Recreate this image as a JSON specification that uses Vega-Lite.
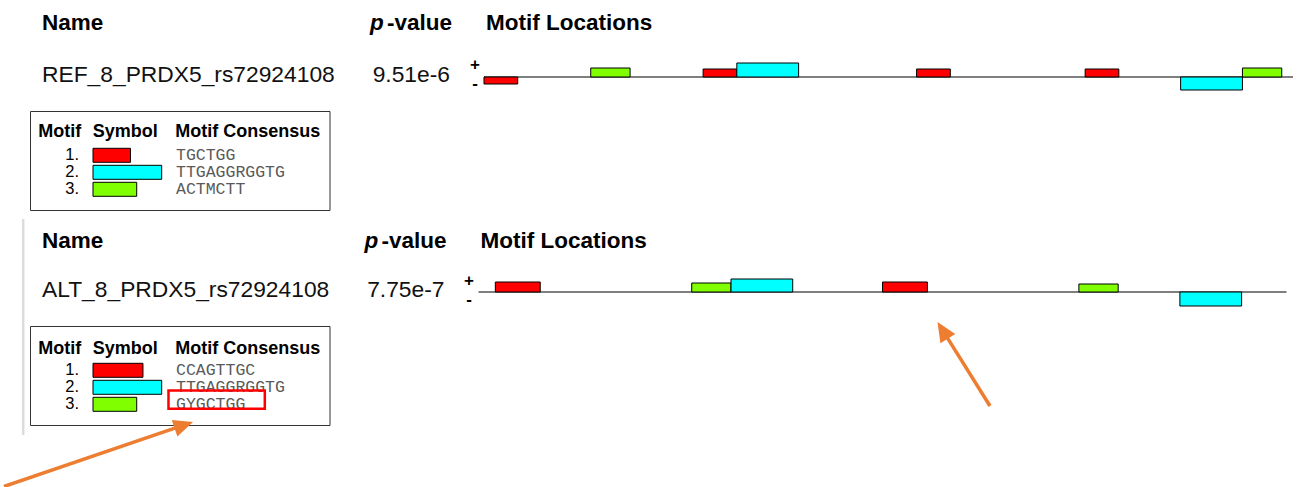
{
  "$schema": "https://vega.github.io/schema/vega-lite/v6.json",
  "width": 1304,
  "height": 487,
  "padding": 0,
  "autosize": {"type": "none"},
  "background": "white",
  "config": {"view": {"stroke": null}},
  "datasets": {
    "seqs": [
      {"seq": "REF", "name": "REF_8_PRDX5_rs72924108", "pvalue": "9.51e-6", "length": 144},
      {"seq": "ALT", "name": "ALT_8_PRDX5_rs72924108", "pvalue": "7.75e-7", "length": 144}
    ],
    "hits": [
      {"seq": "REF", "motif": 1, "strand": "-", "start": 0, "end": 6, "score": -7},
      {"seq": "REF", "motif": 3, "strand": "+", "start": 19, "end": 26, "score": 9},
      {"seq": "REF", "motif": 1, "strand": "+", "start": 39, "end": 45, "score": 8},
      {"seq": "REF", "motif": 2, "strand": "+", "start": 45, "end": 56, "score": 14},
      {"seq": "REF", "motif": 1, "strand": "+", "start": 77, "end": 83, "score": 8},
      {"seq": "REF", "motif": 1, "strand": "+", "start": 107, "end": 113, "score": 8},
      {"seq": "REF", "motif": 2, "strand": "-", "start": 124, "end": 135, "score": -13},
      {"seq": "REF", "motif": 3, "strand": "+", "start": 135, "end": 142, "score": 9},
      {"seq": "ALT", "motif": 1, "strand": "+", "start": 3, "end": 11, "score": 10},
      {"seq": "ALT", "motif": 3, "strand": "+", "start": 38, "end": 45, "score": 9},
      {"seq": "ALT", "motif": 2, "strand": "+", "start": 45, "end": 56, "score": 13},
      {"seq": "ALT", "motif": 1, "strand": "+", "start": 72, "end": 80, "score": 10},
      {"seq": "ALT", "motif": 3, "strand": "+", "start": 107, "end": 114, "score": 8},
      {"seq": "ALT", "motif": 2, "strand": "-", "start": 125, "end": 136, "score": -14}
    ],
    "motifs": [
      {"seq": "REF", "motif": 1, "num": "1.", "consensus": "TGCTGG", "width": 6},
      {"seq": "REF", "motif": 2, "num": "2.", "consensus": "TTGAGGRGGTG", "width": 11},
      {"seq": "REF", "motif": 3, "num": "3.", "consensus": "ACTMCTT", "width": 7},
      {"seq": "ALT", "motif": 1, "num": "1.", "consensus": "CCAGTTGC", "width": 8},
      {"seq": "ALT", "motif": 2, "num": "2.", "consensus": "TTGAGGRGGTG", "width": 11},
      {"seq": "ALT", "motif": 3, "num": "3.", "consensus": "GYGCTGG", "width": 7}
    ]
  },
  "layer": [
    {
      "data": {"values": [{}]},
      "mark": {"type": "rule", "stroke": "#dcdcdc", "strokeWidth": 2.5},
      "encoding": {
        "x": {"datum": 23.2, "type": "quantitative", "scale": {"domain": [0, 1304], "range": [0, 1304], "nice": false, "zero": false}, "axis": null},
        "y": {"datum": 219, "type": "quantitative", "scale": {"domain": [0, 487], "range": [0, 487], "nice": false, "zero": false}, "axis": null},
        "y2": {"datum": 435}
      }
    },
    {
      "data": {"name": "seqs"},
      "mark": {"type": "text", "text": "Name", "font": "Liberation Sans", "fontSize": 22.5, "fontWeight": "bold", "align": "left", "baseline": "alphabetic", "color": "#000"},
      "encoding": {
        "x": {"datum": 42, "type": "quantitative", "scale": {"domain": [0, 1304], "range": [0, 1304], "nice": false, "zero": false}, "axis": null},
        "y": {"field": "seq", "type": "nominal", "scale": {"type": "point", "domain": ["REF", "ALT"], "range": [30, 248], "padding": 0}, "axis": null}
      }
    },
    {
      "data": {"name": "seqs"},
      "mark": {"type": "text", "text": "p", "font": "Liberation Sans", "fontSize": 22.5, "fontWeight": "bold", "fontStyle": "italic", "align": "left", "baseline": "alphabetic", "color": "#000"},
      "encoding": {
        "x": {"field": "seq", "type": "nominal", "scale": {"type": "point", "domain": ["REF", "ALT"], "range": [370, 364.5], "padding": 0}, "axis": null},
        "y": {"field": "seq", "type": "nominal", "scale": {"type": "point", "domain": ["REF", "ALT"], "range": [30, 248], "padding": 0}, "axis": null}
      }
    },
    {
      "data": {"name": "seqs"},
      "mark": {"type": "text", "text": "-value", "font": "Liberation Sans", "fontSize": 22.5, "fontWeight": "bold", "align": "left", "baseline": "alphabetic", "color": "#000"},
      "encoding": {
        "x": {"field": "seq", "type": "nominal", "scale": {"type": "point", "domain": ["REF", "ALT"], "range": [387, 381.5], "padding": 0}, "axis": null},
        "y": {"field": "seq", "type": "nominal", "scale": {"type": "point", "domain": ["REF", "ALT"], "range": [30, 248], "padding": 0}, "axis": null}
      }
    },
    {
      "data": {"name": "seqs"},
      "mark": {"type": "text", "text": "Motif Locations", "font": "Liberation Sans", "fontSize": 22.5, "fontWeight": "bold", "align": "left", "baseline": "alphabetic", "color": "#000"},
      "encoding": {
        "x": {"field": "seq", "type": "nominal", "scale": {"type": "point", "domain": ["REF", "ALT"], "range": [486, 480.5], "padding": 0}, "axis": null},
        "y": {"field": "seq", "type": "nominal", "scale": {"type": "point", "domain": ["REF", "ALT"], "range": [30, 248], "padding": 0}, "axis": null}
      }
    },
    {
      "data": {"name": "seqs"},
      "mark": {"type": "text", "font": "Liberation Sans", "fontSize": 22.8, "align": "left", "baseline": "alphabetic", "color": "#111"},
      "encoding": {
        "x": {"datum": 42, "type": "quantitative", "scale": {"domain": [0, 1304], "range": [0, 1304], "nice": false, "zero": false}, "axis": null},
        "y": {"field": "seq", "type": "nominal", "scale": {"type": "point", "domain": ["REF", "ALT"], "range": [82, 297], "padding": 0}, "axis": null},
        "text": {"field": "name"}
      }
    },
    {
      "data": {"name": "seqs"},
      "mark": {"type": "text", "font": "Liberation Sans", "fontSize": 22.8, "align": "right", "baseline": "alphabetic", "color": "#111"},
      "encoding": {
        "x": {"field": "seq", "type": "nominal", "scale": {"type": "point", "domain": ["REF", "ALT"], "range": [450, 444.5], "padding": 0}, "axis": null},
        "y": {"field": "seq", "type": "nominal", "scale": {"type": "point", "domain": ["REF", "ALT"], "range": [82, 297], "padding": 0}, "axis": null},
        "text": {"field": "pvalue"}
      }
    },
    {
      "data": {"name": "seqs"},
      "transform": [{"filter": "datum.seq === 'REF'"}],
      "mark": {"type": "rule", "stroke": "#555555", "strokeWidth": 1.5},
      "encoding": {
        "x": {"field": "length", "type": "quantitative", "scale": {"domain": [0, 144], "range": [484, 1293], "nice": false, "zero": false}, "axis": null},
        "x2": {"datum": 0},
        "y": {"datum": 0, "type": "quantitative", "scale": {"domain": [-20, 20], "range": [97, 57], "nice": false, "zero": false}, "axis": null}
      }
    },
    {
      "data": {"name": "hits"},
      "transform": [{"filter": "datum.seq === 'REF'"}],
      "mark": {"type": "rect", "stroke": "#000", "strokeWidth": 1},
      "encoding": {
        "x": {"field": "start", "type": "quantitative", "scale": {"domain": [0, 144], "range": [484, 1293], "nice": false, "zero": false}, "axis": null},
        "x2": {"field": "end"},
        "y": {"field": "score", "type": "quantitative", "scale": {"domain": [-20, 20], "range": [97, 57], "nice": false, "zero": false}, "axis": null},
        "y2": {"datum": 0},
        "color": {"field": "motif", "type": "nominal", "scale": {"domain": [1, 2, 3], "range": ["#ff0000", "#00ffff", "#7fff00"]}, "legend": null}
      }
    },
    {
      "data": {"values": [{"strand": "+"}, {"strand": "-"}]},
      "mark": {"type": "text", "font": "Liberation Sans", "fontSize": 17, "fontWeight": "bold", "align": "center", "baseline": "middle", "color": "#000"},
      "encoding": {
        "x": {"datum": -1.6, "type": "quantitative", "scale": {"domain": [0, 144], "range": [484, 1293], "nice": false, "zero": false}, "axis": null},
        "y": {"field": "strand", "type": "nominal", "scale": {"type": "point", "domain": ["+", "-"], "range": [65, 84.3], "padding": 0}, "axis": null},
        "text": {"field": "strand"}
      }
    },
    {
      "data": {"name": "seqs"},
      "transform": [{"filter": "datum.seq === 'ALT'"}],
      "mark": {"type": "rule", "stroke": "#555555", "strokeWidth": 1.5},
      "encoding": {
        "x": {"field": "length", "type": "quantitative", "scale": {"domain": [0, 144], "range": [478.5, 1286.5], "nice": false, "zero": false}, "axis": null},
        "x2": {"datum": 0},
        "y": {"datum": 0, "type": "quantitative", "scale": {"domain": [-20, 20], "range": [312, 272], "nice": false, "zero": false}, "axis": null}
      }
    },
    {
      "data": {"name": "hits"},
      "transform": [{"filter": "datum.seq === 'ALT'"}],
      "mark": {"type": "rect", "stroke": "#000", "strokeWidth": 1},
      "encoding": {
        "x": {"field": "start", "type": "quantitative", "scale": {"domain": [0, 144], "range": [478.5, 1286.5], "nice": false, "zero": false}, "axis": null},
        "x2": {"field": "end"},
        "y": {"field": "score", "type": "quantitative", "scale": {"domain": [-20, 20], "range": [312, 272], "nice": false, "zero": false}, "axis": null},
        "y2": {"datum": 0},
        "color": {"field": "motif", "type": "nominal", "scale": {"domain": [1, 2, 3], "range": ["#ff0000", "#00ffff", "#7fff00"]}, "legend": null}
      }
    },
    {
      "data": {"values": [{"strand": "+"}, {"strand": "-"}]},
      "mark": {"type": "text", "font": "Liberation Sans", "fontSize": 17, "fontWeight": "bold", "align": "center", "baseline": "middle", "color": "#000"},
      "encoding": {
        "x": {"datum": -1.7, "type": "quantitative", "scale": {"domain": [0, 144], "range": [478.5, 1286.5], "nice": false, "zero": false}, "axis": null},
        "y": {"field": "strand", "type": "nominal", "scale": {"type": "point", "domain": ["+", "-"], "range": [281.3, 299.7], "padding": 0}, "axis": null},
        "text": {"field": "strand"}
      }
    },
    {
      "data": {"name": "seqs"},
      "mark": {"type": "rect", "fill": "white", "fillOpacity": 0, "stroke": "#333", "strokeWidth": 1},
      "encoding": {
        "x": {"datum": 30.5, "type": "quantitative", "scale": {"domain": [0, 1304], "range": [0, 1304], "nice": false, "zero": false}, "axis": null},
        "x2": {"datum": 330},
        "y": {"field": "seq", "type": "nominal", "scale": {"type": "band", "domain": ["REF", "ALT"], "range": [111.5, 425.5], "paddingInner": 0.5395, "paddingOuter": 0}, "axis": null}
      }
    },
    {
      "data": {"name": "seqs"},
      "mark": {"type": "text", "text": "Motif", "font": "Liberation Sans", "fontSize": 18, "fontWeight": "bold", "align": "left", "baseline": "alphabetic", "color": "#000"},
      "encoding": {
        "x": {"datum": 38.3, "type": "quantitative", "scale": {"domain": [0, 1304], "range": [0, 1304], "nice": false, "zero": false}, "axis": null},
        "y": {"field": "seq", "type": "nominal", "scale": {"type": "point", "domain": ["REF", "ALT"], "range": [137, 353.5], "padding": 0}, "axis": null}
      }
    },
    {
      "data": {"name": "seqs"},
      "mark": {"type": "text", "text": "Symbol", "font": "Liberation Sans", "fontSize": 18, "fontWeight": "bold", "align": "left", "baseline": "alphabetic", "color": "#000"},
      "encoding": {
        "x": {"datum": 92.7, "type": "quantitative", "scale": {"domain": [0, 1304], "range": [0, 1304], "nice": false, "zero": false}, "axis": null},
        "y": {"field": "seq", "type": "nominal", "scale": {"type": "point", "domain": ["REF", "ALT"], "range": [137, 353.5], "padding": 0}, "axis": null}
      }
    },
    {
      "data": {"name": "seqs"},
      "mark": {"type": "text", "text": "Motif Consensus", "font": "Liberation Sans", "fontSize": 18, "fontWeight": "bold", "align": "left", "baseline": "alphabetic", "color": "#000"},
      "encoding": {
        "x": {"datum": 175.3, "type": "quantitative", "scale": {"domain": [0, 1304], "range": [0, 1304], "nice": false, "zero": false}, "axis": null},
        "y": {"field": "seq", "type": "nominal", "scale": {"type": "point", "domain": ["REF", "ALT"], "range": [137, 353.5], "padding": 0}, "axis": null}
      }
    },
    {
      "data": {"name": "motifs"},
      "transform": [{"filter": "datum.seq === 'REF'"}],
      "mark": {"type": "rect", "stroke": "#000", "strokeWidth": 1},
      "encoding": {
        "x": {"field": "width", "type": "quantitative", "scale": {"domain": [0, 11], "range": [93, 161.7], "nice": false, "zero": false}, "axis": null},
        "x2": {"datum": 0},
        "y": {"field": "motif", "type": "ordinal", "scale": {"type": "band", "domain": [1, 2, 3], "range": [148.3, 196.3], "paddingInner": 0.1765, "paddingOuter": 0}, "axis": null},
        "color": {"field": "motif", "type": "nominal", "scale": {"domain": [1, 2, 3], "range": ["#ff0000", "#00ffff", "#7fff00"]}, "legend": null}
      }
    },
    {
      "data": {"name": "motifs"},
      "transform": [{"filter": "datum.seq === 'REF'"}],
      "mark": {"type": "text", "font": "Liberation Sans", "fontSize": 16.5, "align": "right", "baseline": "middle", "color": "#000"},
      "encoding": {
        "x": {"datum": 79, "type": "quantitative", "scale": {"domain": [0, 1304], "range": [0, 1304], "nice": false, "zero": false}, "axis": null},
        "y": {"field": "motif", "type": "ordinal", "scale": {"type": "band", "domain": [1, 2, 3], "range": [148.3, 196.3], "paddingInner": 0.1765, "paddingOuter": 0}, "axis": null},
        "text": {"field": "num"}
      }
    },
    {
      "data": {"name": "motifs"},
      "transform": [{"filter": "datum.seq === 'REF'"}],
      "mark": {"type": "text", "font": "Liberation Mono", "fontSize": 16.5, "align": "left", "baseline": "middle", "color": "#5a5a5a"},
      "encoding": {
        "x": {"datum": 176, "type": "quantitative", "scale": {"domain": [0, 1304], "range": [0, 1304], "nice": false, "zero": false}, "axis": null},
        "y": {"field": "motif", "type": "ordinal", "scale": {"type": "band", "domain": [1, 2, 3], "range": [148.3, 196.3], "paddingInner": 0.1765, "paddingOuter": 0}, "axis": null},
        "text": {"field": "consensus"}
      }
    },
    {
      "data": {"name": "motifs"},
      "transform": [{"filter": "datum.seq === 'ALT'"}],
      "mark": {"type": "rect", "stroke": "#000", "strokeWidth": 1},
      "encoding": {
        "x": {"field": "width", "type": "quantitative", "scale": {"domain": [0, 11], "range": [93, 161.7], "nice": false, "zero": false}, "axis": null},
        "x2": {"datum": 0},
        "y": {"field": "motif", "type": "ordinal", "scale": {"type": "band", "domain": [1, 2, 3], "range": [363.3, 411.3], "paddingInner": 0.1765, "paddingOuter": 0}, "axis": null},
        "color": {"field": "motif", "type": "nominal", "scale": {"domain": [1, 2, 3], "range": ["#ff0000", "#00ffff", "#7fff00"]}, "legend": null}
      }
    },
    {
      "data": {"name": "motifs"},
      "transform": [{"filter": "datum.seq === 'ALT'"}],
      "mark": {"type": "text", "font": "Liberation Sans", "fontSize": 16.5, "align": "right", "baseline": "middle", "color": "#000"},
      "encoding": {
        "x": {"datum": 79, "type": "quantitative", "scale": {"domain": [0, 1304], "range": [0, 1304], "nice": false, "zero": false}, "axis": null},
        "y": {"field": "motif", "type": "ordinal", "scale": {"type": "band", "domain": [1, 2, 3], "range": [363.3, 411.3], "paddingInner": 0.1765, "paddingOuter": 0}, "axis": null},
        "text": {"field": "num"}
      }
    },
    {
      "data": {"name": "motifs"},
      "transform": [{"filter": "datum.seq === 'ALT'"}],
      "mark": {"type": "text", "font": "Liberation Mono", "fontSize": 16.5, "align": "left", "baseline": "middle", "color": "#5a5a5a"},
      "encoding": {
        "x": {"datum": 176, "type": "quantitative", "scale": {"domain": [0, 1304], "range": [0, 1304], "nice": false, "zero": false}, "axis": null},
        "y": {"field": "motif", "type": "ordinal", "scale": {"type": "band", "domain": [1, 2, 3], "range": [363.3, 411.3], "paddingInner": 0.1765, "paddingOuter": 0}, "axis": null},
        "text": {"field": "consensus"}
      }
    },
    {
      "data": {"values": [{}]},
      "mark": {"type": "rect", "fill": "white", "fillOpacity": 0, "stroke": "#ff0000", "strokeWidth": 2.5},
      "encoding": {
        "x": {"datum": 168.5, "type": "quantitative", "scale": {"domain": [0, 1304], "range": [0, 1304], "nice": false, "zero": false}, "axis": null},
        "x2": {"datum": 264.8},
        "y": {"datum": 390.5, "type": "quantitative", "scale": {"domain": [0, 487], "range": [0, 487], "nice": false, "zero": false}, "axis": null},
        "y2": {"datum": 408.8}
      }
    },
    {
      "data": {"values": [{}]},
      "mark": {"type": "rule", "stroke": "#ED7D31", "strokeWidth": 3.5},
      "encoding": {
        "x": {"datum": 4, "type": "quantitative", "scale": {"domain": [0, 1304], "range": [0, 1304], "nice": false, "zero": false}, "axis": null},
        "x2": {"datum": 180},
        "y": {"datum": 486.5, "type": "quantitative", "scale": {"domain": [0, 487], "range": [0, 487], "nice": false, "zero": false}, "axis": null},
        "y2": {"datum": 426.4}
      }
    },
    {
      "data": {"values": [{}]},
      "mark": {"type": "point", "shape": "M0,0L-0.85,1.9L0.85,1.9Z", "filled": true, "size": 420, "angle": 71.2, "color": "#ED7D31", "opacity": 1, "strokeWidth": 0},
      "encoding": {
        "x": {"datum": 193, "type": "quantitative", "scale": {"domain": [0, 1304], "range": [0, 1304], "nice": false, "zero": false}, "axis": null},
        "y": {"datum": 422, "type": "quantitative", "scale": {"domain": [0, 487], "range": [0, 487], "nice": false, "zero": false}, "axis": null}
      }
    },
    {
      "data": {"values": [{}]},
      "mark": {"type": "rule", "stroke": "#ED7D31", "strokeWidth": 3.5},
      "encoding": {
        "x": {"datum": 990, "type": "quantitative", "scale": {"domain": [0, 1304], "range": [0, 1304], "nice": false, "zero": false}, "axis": null},
        "x2": {"datum": 944.9},
        "y": {"datum": 406, "type": "quantitative", "scale": {"domain": [0, 487], "range": [0, 487], "nice": false, "zero": false}, "axis": null},
        "y2": {"datum": 333.9}
      }
    },
    {
      "data": {"values": [{}]},
      "mark": {"type": "point", "shape": "M0,0L-0.85,1.9L0.85,1.9Z", "filled": true, "size": 420, "angle": -32, "color": "#ED7D31", "opacity": 1, "strokeWidth": 0},
      "encoding": {
        "x": {"datum": 937.5, "type": "quantitative", "scale": {"domain": [0, 1304], "range": [0, 1304], "nice": false, "zero": false}, "axis": null},
        "y": {"datum": 322, "type": "quantitative", "scale": {"domain": [0, 487], "range": [0, 487], "nice": false, "zero": false}, "axis": null}
      }
    }
  ],
  "resolve": {"scale": {"x": "independent", "y": "independent"}}
}
